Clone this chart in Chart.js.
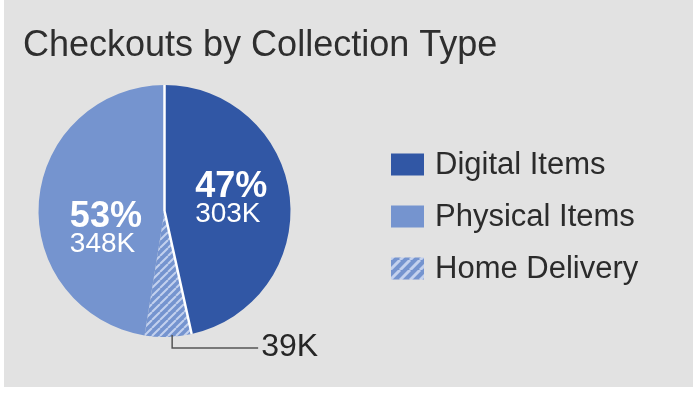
<!DOCTYPE html>
<html>
<head>
<meta charset="utf-8">
<script src="https://cdn.jsdelivr.net/npm/chart.js@4/dist/chart.umd.min.js"></script>
<style>
  html, body { margin: 0; padding: 0; background: #fff; }
  canvas { display: block; }
</style>
</head>
<body>
<canvas id="checkoutsChart" width="693" height="393"></canvas>
<script>
// Checkouts in thousands. Home Delivery is a part of Physical Items.
const categories = ["Digital Items", "Physical Items", "Home Delivery"];
const checkoutsK = [303, 348, 39];
const chartTitle = "Checkouts by Collection Type";

const FONT = "'Liberation Sans', Arial, sans-serif";
const digitalColor = "#3157a5";
const physicalColor = "#7594cf";
const stripeColor = "#c3d1ee";

function makeHatch(size, lw, base, stripe) {
  const c = document.createElement("canvas");
  c.width = c.height = size;
  const g = c.getContext("2d");
  g.fillStyle = base;
  g.fillRect(0, 0, size, size);
  g.strokeStyle = stripe;
  g.lineWidth = lw;
  g.beginPath();
  [-size, 0, size].forEach(o => {
    g.moveTo(o, size);
    g.lineTo(o + size, 0);
  });
  g.stroke();
  return g.createPattern(c, "repeat");
}

const pieHatch = makeHatch(8, 2, physicalColor, stripeColor);
const legendHatch = makeHatch(10, 3, physicalColor, stripeColor);

// clockwise from the top: digital, home delivery, rest of physical
const sliceLabels = [categories[0], categories[2], categories[1]];
const sliceValues = [checkoutsK[0], checkoutsK[2], checkoutsK[1] - checkoutsK[2]];
const sliceColors = [digitalColor, pieHatch, physicalColor];

const total = checkoutsK[0] + checkoutsK[1];
const pct = v => Math.round(v / total * 100) + "%";

const decorPlugin = {
  id: "decor",
  beforeDraw(chart) {
    const ctx = chart.ctx;
    ctx.save();
    ctx.fillStyle = "#ffffff";
    ctx.fillRect(0, 0, chart.width, chart.height);
    ctx.fillStyle = "#e2e2e2";
    ctx.fillRect(4, 0, 689, 387);
    ctx.fillStyle = "#2e2e2e";
    ctx.font = "36px " + FONT;
    ctx.textBaseline = "alphabetic";
    ctx.fillText(chartTitle, 23, 56);
    ctx.restore();
  },
  afterDatasetsDraw(chart) {
    const ctx = chart.ctx;
    const arcs = chart.getDatasetMeta(0).data;
    const d = arcs[0];
    const cx = d.x, cy = d.y, r = d.outerRadius;
    ctx.save();

    // white separators around the digital slice
    ctx.strokeStyle = "#ffffff";
    ctx.lineWidth = 2.5;
    ctx.beginPath();
    [d.startAngle, d.endAngle].forEach(a => {
      ctx.moveTo(cx, cy);
      ctx.lineTo(cx + r * Math.cos(a), cy + r * Math.sin(a));
    });
    ctx.stroke();

    // slice labels
    ctx.fillStyle = "#ffffff";
    ctx.textAlign = "left";
    ctx.textBaseline = "alphabetic";
    const block = (mid, p, v, dx, dy) => {
      const px = cx + r * 0.5 * Math.cos(mid);
      const py = cy + r * 0.5 * Math.sin(mid);
      ctx.font = "bold 36px " + FONT;
      ctx.fillText(p, px + dx, py + dy);
      ctx.font = "28px " + FONT;
      ctx.fillText(v, px + dx, py + dy + 25);
    };
    block((d.startAngle + d.endAngle) / 2, pct(checkoutsK[0]), checkoutsK[0] + "K", -32, -7);
    block((arcs[1].startAngle + arcs[2].endAngle) / 2, pct(checkoutsK[1]), checkoutsK[1] + "K", -32, 9);

    // home delivery call-out
    const h = arcs[1];
    const hm = (h.startAngle + h.endAngle) / 2;
    const ex = cx + r * Math.cos(hm) + 4;
    const ey = cy + r * Math.sin(hm);
    ctx.strokeStyle = "#555555";
    ctx.lineWidth = 1.5;
    ctx.beginPath();
    ctx.moveTo(ex, ey - 2);
    ctx.lineTo(ex, ey + 11);
    ctx.lineTo(ex + 86, ey + 11);
    ctx.stroke();
    ctx.fillStyle = "#262626";
    ctx.font = "32px " + FONT;
    ctx.fillText(checkoutsK[2] + "K", ex + 89, ey + 19);

    // legend
    const fills = [digitalColor, physicalColor, legendHatch];
    ctx.textBaseline = "middle";
    ctx.font = "31px " + FONT;
    categories.forEach((name, i) => {
      const yc = 164.5 + i * 52;
      ctx.fillStyle = fills[i];
      ctx.fillRect(391, yc - 11, 33, 22);
      ctx.fillStyle = "#2b2b2b";
      ctx.fillText(name, 435, yc + 1);
    });
    ctx.restore();
  }
};

new Chart(document.getElementById("checkoutsChart"), {
  type: "pie",
  data: {
    labels: sliceLabels,
    datasets: [{
      data: sliceValues,
      backgroundColor: sliceColors,
      borderWidth: 0,
      offset: 0,
      hoverOffset: 0
    }]
  },
  options: {
    responsive: false,
    animation: false,
    events: [],
    layout: { padding: { left: 38, top: 85, right: 402, bottom: 56 } },
    plugins: {
      legend: { display: false },
      title: { display: false },
      tooltip: { enabled: false }
    }
  },
  plugins: [decorPlugin]
});
</script>
</body>
</html>
